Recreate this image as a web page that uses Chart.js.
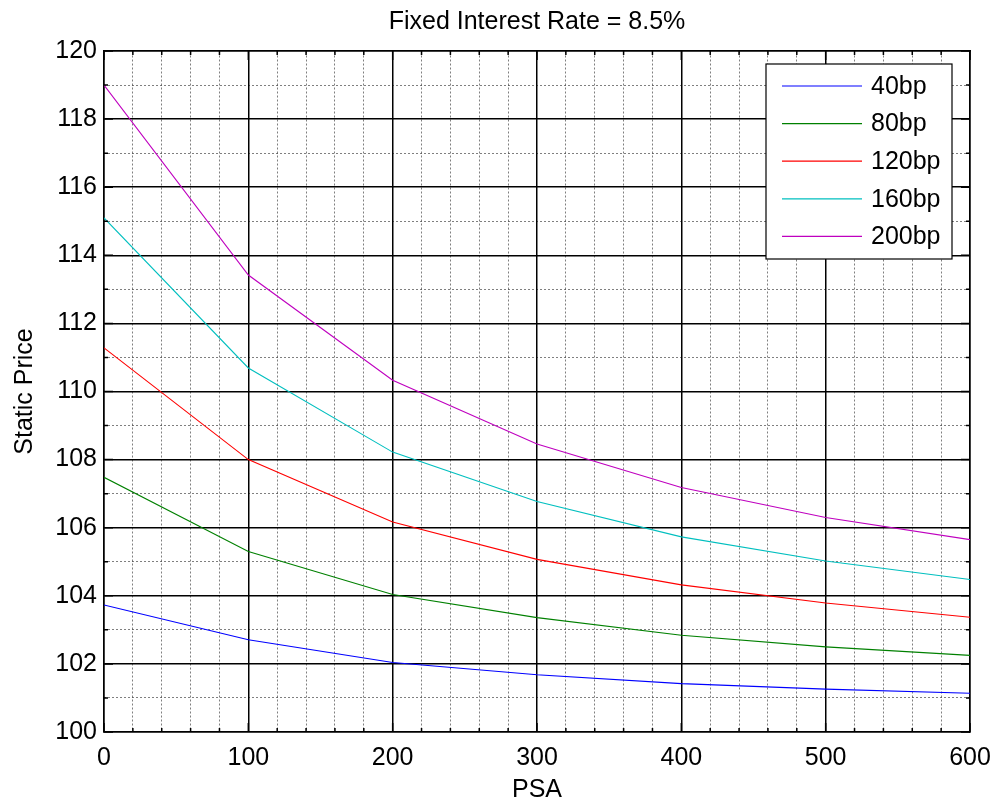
<!DOCTYPE html>
<html><head><meta charset="utf-8">
<script src="https://cdn.jsdelivr.net/npm/chart.js@4/dist/chart.umd.min.js"></script>
<style>html,body{margin:0;padding:0;background:#fff;}canvas{display:block;}</style>
</head><body>
<canvas id="c" width="1002" height="809"></canvas>
<script>
// ---- data ----
const psa = [0, 100, 200, 300, 400, 500, 600];
const seriesNames = ['40bp', '80bp', '120bp', '160bp', '200bp'];
const price40bp  = [103.73, 102.71, 102.04, 101.68, 101.42, 101.26, 101.14];
const price80bp  = [107.48, 105.30, 104.04, 103.36, 102.84, 102.50, 102.25];
const price120bp = [111.28, 108.00, 106.17, 105.07, 104.32, 103.79, 103.37];
const price160bp = [115.10, 110.69, 108.22, 106.77, 105.73, 105.02, 104.48];
const price200bp = [119.00, 113.42, 110.33, 108.46, 107.18, 106.30, 105.65];
const xTickLabels = ['0', '100', '200', '300', '400', '500', '600'];
const yTickLabels = ['100', '102', '104', '106', '108', '110', '112', '114', '116', '118', '120'];
const titleText = 'Fixed Interest Rate = 8.5%';
const xAxisLabel = 'PSA';
const yAxisLabel = 'Static Price';

const seriesValues = [price40bp, price80bp, price120bp, price160bp, price200bp];
const seriesColors = ['#0000ff', '#008000', '#ff0000', '#00bfbf', '#bf00bf'];

const FONT = 'Liberation Sans, Arial, sans-serif';
const FS = 25;

const datasets = seriesNames.map((name, i) => ({
  label: name,
  data: psa.map((x, j) => ({x: x, y: seriesValues[i][j]})),
  borderColor: seriesColors[i],
  backgroundColor: seriesColors[i],
  borderWidth: 1.1,
  pointRadius: 0,
  tension: 0,
  fill: false
}));

const isMajorX = v => Math.abs(v % 100) < 1e-6;
const isMajorY = v => Math.abs(v % 2) < 1e-6;

// inward tick marks (MATLAB style)
const inTicks = {
  id: 'inTicks',
  afterDatasetsDraw(chart) {
    const {ctx, chartArea: a, scales} = chart;
    ctx.save();
    ctx.strokeStyle = '#000';
    ctx.lineWidth = 1.5;
    ctx.beginPath();
    scales.xMinor.ticks.forEach(t => {
      const px = scales.x.getPixelForValue(t.value);
      const len = isMajorX(t.value) ? 9 : 4;
      ctx.moveTo(px, a.top); ctx.lineTo(px, a.top + len);
      ctx.moveTo(px, a.bottom); ctx.lineTo(px, a.bottom - len);
    });
    scales.yMinor.ticks.forEach(t => {
      const py = scales.y.getPixelForValue(t.value);
      const len = isMajorY(t.value) ? 9 : 4;
      ctx.moveTo(a.left, py); ctx.lineTo(a.left + len, py);
      ctx.moveTo(a.right, py); ctx.lineTo(a.right - len, py);
    });
    ctx.stroke();
    ctx.restore();
  }
};

// legend box inside the plot (MATLAB style)
const boxLegend = {
  id: 'boxLegend',
  afterDraw(chart) {
    const {ctx, chartArea: a} = chart;
    const w = 186, h = 195;
    const left = a.right - 18 - w, top = a.top + 13;
    ctx.save();
    ctx.fillStyle = '#fff';
    ctx.fillRect(left, top, w, h);
    ctx.strokeStyle = '#000';
    ctx.lineWidth = 1.2;
    ctx.strokeRect(left, top, w, h);
    ctx.font = FS + 'px ' + FONT;
    ctx.textBaseline = 'middle';
    ctx.textAlign = 'left';
    chart.data.datasets.forEach((ds, i) => {
      const y = top + 22 + i * 37.6;
      ctx.strokeStyle = ds.borderColor;
      ctx.lineWidth = 1.2;
      ctx.beginPath();
      ctx.moveTo(left + 16, y); ctx.lineTo(left + 96, y);
      ctx.stroke();
      ctx.fillStyle = '#000';
      ctx.fillText(ds.label, left + 105, y + 1);
    });
    ctx.restore();
  }
};

new Chart(document.getElementById('c'), {
  type: 'line',
  data: {datasets},
  options: {
    responsive: false,
    animation: false,
    layout: {padding: {top: 0, right: 32, bottom: 0, left: 0}},
    plugins: {
      legend: {display: false},
      tooltip: {enabled: false},
      title: {
        display: true, text: titleText, fullSize: false, color: '#000',
        font: {family: FONT, size: FS, weight: 'normal'},
        padding: {top: 7, bottom: 14}
      }
    },
    scales: {
      x: {
        type: 'linear', position: 'bottom', min: 0, max: 600,
        afterFit: s => { s.height = 77; },
        ticks: {
          stepSize: 100, color: '#000', padding: 11, maxRotation: 0,
          font: {family: FONT, size: FS},
          callback: (v) => xTickLabels[Math.round(v / 100)] ?? ''
        },
        grid: {color: '#000', lineWidth: 1.5, drawTicks: false, z: -1},
        border: {display: true, color: '#000', width: 1.5},
        title: {display: true, text: xAxisLabel, color: '#000', font: {family: FONT, size: FS}, padding: {top: 0, bottom: 4}}
      },
      xMinor: {
        type: 'linear', position: 'top', min: 0, max: 600,
        afterFit: s => { s.height = 0; },
        ticks: {display: false, stepSize: 20},
        grid: {color: c => isMajorX(c.tick.value) ? 'rgba(0,0,0,0)' : 'rgba(0,0,0,0.5)', lineWidth: 1, drawTicks: false, z: -2},
        border: {display: true, color: '#000', width: 1.5, dash: [2, 2]}
      },
      y: {
        type: 'linear', position: 'left', min: 100, max: 120,
        afterFit: s => { s.width = 104; },
        ticks: {
          stepSize: 2, color: '#000', padding: 7,
          font: {family: FONT, size: FS},
          callback: (v) => yTickLabels[Math.round((v - 100) / 2)] ?? ''
        },
        grid: {color: '#000', lineWidth: 1.5, drawTicks: false, z: -1},
        border: {display: true, color: '#000', width: 1.5},
        title: {display: true, text: yAxisLabel, color: '#000', font: {family: FONT, size: FS}, padding: {top: 10, bottom: 0}}
      },
      yMinor: {
        type: 'linear', position: 'right', min: 100, max: 120,
        afterFit: s => { s.width = 0; },
        ticks: {display: false, stepSize: 1},
        grid: {color: c => isMajorY(c.tick.value) ? 'rgba(0,0,0,0)' : 'rgba(0,0,0,0.5)', lineWidth: 1, drawTicks: false, z: -2},
        border: {display: true, color: '#000', width: 1.5, dash: [2, 2]}
      }
    }
  },
  plugins: [inTicks, boxLegend]
});
</script>
</body></html>
